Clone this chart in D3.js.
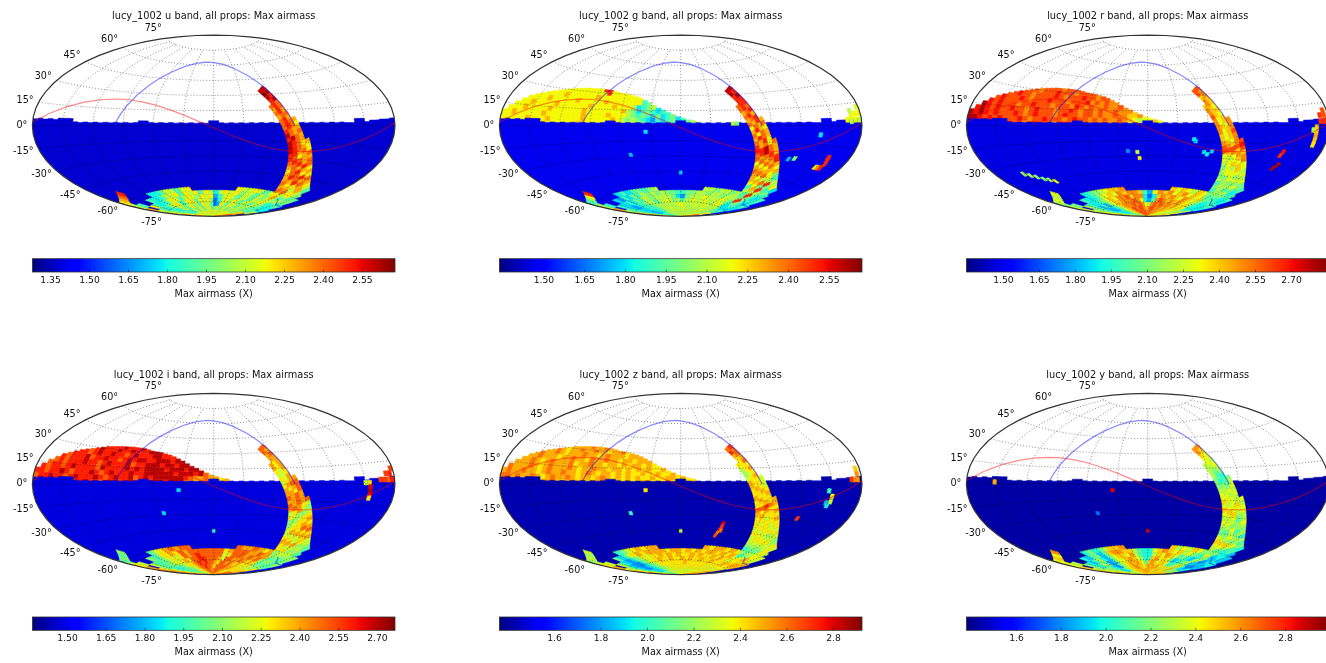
<!DOCTYPE html>
<html><head><meta charset="utf-8">
<script src="https://cdn.jsdelivr.net/npm/d3@7"></script>
<style>
html,body{margin:0;padding:0;background:#fff;overflow:hidden}
svg{display:block;filter:blur(0.6px)}
text{font-family:"DejaVu Sans",sans-serif;fill:#111}
</style></head><body><svg id="chart" width="1326" height="663"></svg>
<script>
// ---------- labels ----------
const bands = ["u","g","r","i","z","y"];
const runName = "lucy_1002";
const metricLabel = "Max airmass";
const colorbarLabel = "Max airmass (X)";
const latTicks = [75,60,45,30,15,0,-15,-30,-45,-60,-75];
const lonGrid = [-150,-120,-90,-60,-30,0,30,60,90,120,150];

// ---------- colour bar ranges and ticks ----------
const colorDomains = [[1.282,2.677],[1.338,2.672],[1.348,2.858],[1.366,2.77],[1.365,2.925],[1.379,2.996]];
const ticksU = ["1.35","1.50","1.65","1.80","1.95","2.10","2.25","2.40","2.55"];
const ticksG = ["1.50","1.65","1.80","1.95","2.10","2.25","2.40","2.55"];
const ticksR = ["1.50","1.65","1.80","1.95","2.10","2.25","2.40","2.55","2.70"];
const ticksI = ["1.50","1.65","1.80","1.95","2.10","2.25","2.40","2.55","2.70"];
const ticksZ = ["1.6","1.8","2.0","2.2","2.4","2.6","2.8"];
const ticksY = ["1.6","1.8","2.0","2.2","2.4","2.6","2.8"];

// ---------- airmass letter codes used in the sky tables ----------
const airmassCodes = {A:1.3,B:1.4,C:1.5,D:1.6,E:1.7,F:1.8,G:1.9,H:2.0,I:2.1,J:2.2,K:2.3,L:2.4,M:2.5,N:2.6,O:2.7,P:2.8,Q:2.9,R:3.0};

// ---------- survey footprint: base airmass and north limit (deg) per 5 deg of longitude from -180 ----------
const baseAirmass = [1.38,1.465,1.476,1.48,1.43,1.43];
const footprintNorth = [4.5,5,4.5,5,4.5,5.5,5.5,5.5,
 3,2.5,3,2.5,3,2.5,3,2.5,3,2.5,3,2.5,
 3,4.5,4.5,
 3,2.5,3,2.5,3,2.5,3,2.5,3,2.5,3,2.5,
 5,5,
 3,2.5,3,2.5,3,2.5,3,2.5,3,2.5,3,2.5,3,2.5,3,2.5,3,2.5,3,2.5,3,2.5,3,2.5,3,2.5,2.5,
 5.5,5.5,
 3,4,4,4.5,4.5,5];

// ---------- overlays on the sky ----------
const galacticLine = [[-99,0],[-90,17.1],[-75,38.6],[-60,51],[-45,57.8],[-30,61.4],[-15,62.9],[-9,63],[0,62.7],[15,60.9],[30,56.8],[45,49.1],[60,35.1],[75,11.6],[81,0]];
const southHook = [[128,-64],[135,-65],[150,-68],[170,-67]];
const eclipticLine = [[-180,2.2],[-165,8.4],[-150,13.9],[-135,18.3],[-120,21.4],[-105,23.1],[-95,23.4],[-90,23.3],[-75,22.1],[-60,19.5],[-45,15.5],[-30,10.4],[-15,4.3],[-5,0],[0,-2.2],[15,-8.4],[30,-13.9],[45,-18.3],[60,-21.4],[75,-23.1],[85,-23.4],[90,-23.3],[105,-22.1],[120,-19.5],[135,-15.5],[150,-10.4],[165,-4.3],[175,0],[180,2.2]];
const planeNode = [81,0];
const planePole = [171,27];

// ---------- plane band: rows every 4 deg along the plane from -44, columns every 4 deg across from -16 ----------
const bandFirstCol = [0,0,0,0,0,0,0,0,0,1,1,1,1,1,1,1,1,1,1,1,1,1,1,1,1,1,1,1,1,0,0,0,0,0,0,0,0,0,0,0,0];
const bandLastCol =  [3,3,3,3,3,3,3,3,3,4,4,4,4,4,4,5,5,5,5,5,5,5,5,5,5,5,5,5,5,6,6,6,6,6,6,6,6,6,6,6,6];
const bandU = ["..NN...","..ON...","..NMN..","..MNM..",".LMLM..",".KMLL..",".LMKM..",".KLLK..",".LMKKL.","JLMLK..","KLMLJ..","LMLKK..","MNLKLJ.","MMNLKK.","LNMLKL.","MNMLJKJ","NNMLKJL","NMMKLJK","MMLJKLM","KLMLKKL","JKLMKLM","JJLKMLK","IKLMKJL","JKMLJKM","JLKLMJK","IKJMKLJ","JLKJLKI","KJLIKJH","LKIJKIH","JIGJIG.","HGIGH..","GFGH...",".FG....",".......",".......","....J..","....K..","....L..","....M..",".......","......."];
const bandG = ["..NN...","..NM...","..MNM..","..MML..",".LMML..",".LMLK..",".KLML..",".LMKL..",".KLMLJ.","JLKMK..","KJLKL..","LKMKJ..","KLJLK..","LKMLKJ.","KLKMJK.","LMKLJLK","LMMNLKJ","LLMNLKK","KLKLMKL","KJLKLML","LKJLKMK","KLKJLKL","JKLKKJK","JKJLJKI","HJKIJHI","HGJLIGH","GIKHMIG","HGIMHIF","IHMIGJF","GMHGHF.","FHGFG..","FGFG...",".FG....",".......",".......","....G..","....H..","....J..","....M..",".......","......."];
const bandR = ["..NN...","..NM...","..LMN..","..MLM..",".LMLL..",".MLKM..",".MLLM..",".NLKM..",".MKLM..","NMKLM..","NMLKM..","NMKLM..","MLKLN..","NLKLMN.","NMLKMN.","MNMLMNM","MNNNNOO","JKLMLNM","IKJKMLM","IJKKLML","JIKLKML","IJKJLKM","JIKKLKL","IJIKKJL","IHJKIKK","HIJIKJK","IHJJIKJ","HIJHKIH","IHIJHIG","JIHIGH.","HGHGH..","GGHG...",".GH....",".......",".......","....J..","....K..","....J..","....K..",".......","......."];
const bandI = ["..MM...","..ML...","..LML..","..LLM..",".LKLL..",".LKLM..",".KJLL..",".JJKL..",".KJLML.","KJKLL..","LKLMM..","LLKLM..","MLLKM..","LMLMLL.","MLLMLM.","LMLMLML","LLMLKJK","KJKLJIJ","JKJIIJK","JIIJKKL","IIJKKLL","IJKKLKM","JJLKMLL","KKJLKML","KLKJLKL","JKLJKLK","IKJLKJK","JIKJIJI","KIJIJI.","IHIJIH.","HIHIH..","IHHI...",".HI....",".......",".......","....H..","....I..","....H..","....I..",".......","......."];
const bandZ = ["..NO...","..ON...","..MNL..","..LMN..",".LLNM..",".KLLM..",".JLML..",".JKLM..",".KLMNM.","LMLLK..","KMLLK..","LLMLK..","MLLML..","LMLLML.","LLMLLM.","MLLMLML","MNNONML","LMLMLLM","LLMLLML","KLLKLLM","KLKLLML","LKLLKLL","KLKLKLL","JKLKLKM","IKLKJLK","IJKLKKL","JHJKLJK","HJIJKJK","KHJIKLL","KLJKLK.","MLMLK..","LMLK...",".MM....",".......",".......","....J..","....K..","....J..","....K..",".......","......."];
const bandY = ["..NN...","..NM...","..MLM..","..LLK..",".KLKK..",".KKLK..",".KJKJ..",".KIJI..",".JIHJK.","IJHIJ..","KJJIK..","LKKJL..","LLKLK..","MLLKLK.","LMLLKK.","MLKLKLL","LMLLMKL","KLMLLLM","LKLMKLL","KLKLJKM","JKLKIKL","IJKJKLK","KJILJKK","MLJKIJK","LMKLJKI","KLMJKHJ","JKLMJKI","LJIKLIH","MLJHIJH","KJGHIH.","GFGHG..","FGHG...",".GH....",".......",".......","....L..","....M..","....L..","....N..",".......","......."];

// ---------- south polar cap: rows by latitude, columns every 10 deg from -180 ----------
const capLatEdges = [-60,-64,-68,-72,-76,-80,-84,-90];
const capU = ["I..... FFGIIG IJ.... ....JI IJIGIH IJIG..","IG..GF FGIIJG JIJGJI FIJIJH IIGIHI IGHG..","K.JGFF GIJIGI JIHJIJ EGIJIG IIGIIH GFFE..","IIGFGH IJIFIJ JGJIJH DFIJHJ IGIIGI HGFEF.","KIHGFG IIGIJH IGJIIG DEJIGJ IIGIHI GHGGI.","MJIHGG GFIIGI JGIJIG HIIGJI GIIHII GIJK..","MLKJII IJIIJI IIJIIJ JIIJII JIIJJI IJKL.."];
const capG = ["I..... FGFGHG HI.... ....II HIIHIH HGFG..","IG..FE GFHGIH IHIHHG GHHIIH IIHIII HGGF..","K.GFFG FHGIIH IIIIHF EHIIIJ IIIJII IHGF..","JHGFEF GGHIIG IIJIHI GIIJII JIIIJI IHGF..","LIGFFF GGGHII IIIIIJ JIIIIJ IIJIII IHHG..","MJHFEF FGGHII IJIIII IJIIII IIIIJI IHIJ..","MLIGGG GHHIII IIIIII IIIIII IIIIII IIJL.."];
const capR = ["I..... GHIJKL LM.... ....LK LKJLKL KJIH..","JI..HG GHJKLK MLMMLH FKMLMK LMKLKL JIHG..","K.JHGG HIKLKM MNLMMG EGLMLM LKMLKL KIHG..","KJIHFH FIKLLM MMNMKG FHMNML MLMLKL KJHH..","LKIGFF GIJLMM MNMNMK JMNMNM MMLMKL KJIJ..","MKJHGG HIKLLN NMNNML MNNMMM LMLLKK KJJK..","MMKIIH IIKLMM NNMNNM MNMMML MLLKKK JJKL.."];
const capI = ["J..... HJKLML MM.... ....ML LMLKLM LKJI..","KJ..IH HKKLKM LMMMMM MMKLMM MLLMLL KJIH..","L.JHHH IJKJKM LMNMMM MMJKMM MLMLML KJII..","MKIHHI IKJKLK MMNNMM MLJMML LMLKLK KIIJ..","MLJHGH HIJKKL MNMNMM LKMMLM LKLKKJ KJJK..","NLKIHH HIIJKL MMNMML KMMMMM LLLKKK KKKL..","NNLJII IIJKKL LMMMLL MMMMLL LLKKKK LLMM.."];
const capZ = ["K..... HIKLML MM.... ....ML MMLMLM MLKK..","LK..IG HKLMLM MMMLMM LMLMLM MLMLML LKJJ..","M.KHGF GIJLKL LMLMLM LLMLML LMLMLM LKJK..","LKIGFF FHJKLL MLLMLL MLMLLM LLMLLL LLKK..","MLIGFF GHIJKL LLLLLL LMLLLL LLLLKL LKKL..","MMKIGG GHIJJK KLLKLL LLKLLL KLLKLK LKLM..","NMLJII IIJJKK KKKLKK KKLKKK KKKKKL LLMM.."];
const capY = ["L..... HJHIKM MN.... ....MK LKMLJL KIHG..","LK..HG IJGIMN NMMKIH HLMNML MKLJIH IHGG..","M.JHGI KHGILM MLNKIH HKMLNM LIJHGH HIFF..","MKJHIK IFGJLL MNMLJH IMNLML JGHIJK HFFG..","NLKJJH GFIKLM NMNMLI MNMLMM LHIJKM JHGH..","NMLKIG HJKLMM NNMMLM NMNMNL MLMKLN KJJK..","NNMKKJ KLLMMM MMNMNM NMMMLM MNMLMM MLMM.."];

// ---------- northern patch: rows by latitude (top first), columns every 5 deg from -180 ----------
const northLatEdges = [33.5,31,28,24,20,16,12,8,4,0];
const northTop = [11,14,17,19.5,22,23.5,25,26.5,27.5,28.5,29.5,30.5,31.5,32,32.5,33,33,33.2,33.2,33,32.8,32,31,30.5,30,29,28,26.5,24.5,22.5,20,17.5,15.5,13,11,9,7.5,6,5,3.5];
const northU = [];
const northG = ["..............JJJJJMM","..........JJJJJJJJJJMJJJ",".......JJJJKJJJJJJKJJJJJJJJ",".....JJJKJJJJJKJJJJJKJJJJJJJ","...JJKJJ JJKJJ JJJJK JJJJK JJJIF GHI",".JJJKJ JJJKJ JJJJJ KJJJJ JJJKI HFGH GFG","JJKJJ JJJKJ JJJJJ JKJJJ JKJJJ IHGHG FHFGH","JJJJJ KJJJK JJJJJ JKJJJ JJKJI HIHGF EGFGH FGHI","JKJJJ JJJKJ JJJJJ KJJJJ JJKJJ IJHIG FGEFG HIGHI"];
const northR = ["..............NNNMNNN","..........NNMNNNONNNMNNN",".......NONNM NNNNO NMNNN ONNMN",".....ONNNO NMNNN ONNNM NNNOM NMNM","...ONONN NMNNO NNNMN NNMON MNMMN MMN",".OPONO NNONN MNONN NMNNO NMNNM NMMN MMM","POPON ONNNO NMNON NNMNO NNMNN MNMMN MMLLM","PPONO NONNN ONMNN ONNNM NONNM NMNMM NMLKJ KKLK","OPOON NONON NMNON NNMNO NNMNN MNMMM NLKJK KLKKJ"];
const northI = ["..............NNONNNO","..........NONNN ONNON NNOO",".......NNMNO NNONN MNONN NOONN",".....MNNNO MNNON NMNON OONNO OONO","...MNMNN NONNM NONNN OMNNO OONOO NOO",".NMNNM NONNN NMONN NNONO NOOOO NOOO NOO","NNMNN ONMNN NONMN ONNNO NNOOO OOONO OONOM","MNNON NMNON NNONM NONNO MNONO OOOOO NMLLM LLKL","NNMNO NNMNN ONNMN ONNNO NMNOO ONOOO MLLLM LLKL"];
const northZ = ["..............MMNMMNM","..........MLMMN MMNMM LMMN",".......MMNML MMMNM MLMNM MMLMM",".....MNMMM LMMNM MLNMM NMMLM MLMM","...MMNML MNMMM NLMMN MMLMM LMLMM LML",".NMMMN MLMNM MMNML MMNMM LMMLM LMLM LLM","MNMMN MMLMN MMNMM LMNML MMLML MLLML LMLLM","NNMNM MNMLM NMMNM LMMLM NMLML MLMLL MLLMM LMLL","NMNMM NMLMM NMLMN MMLMM NLMML MLLMM LLLML MLLM"];
const northY = [];

// ---------- isolated cells: [lon, lat, airmass] ----------
const spotsU = [];
const spotsG = [[-35,-6,1.8],[-54,-28,1.75],[0,-46.5,1.8],[56,2,2.0],[52,2,2.1],[140,-7,1.8],[118,-28,1.75],[124,-27,2.0],[153,-31,2.2],[156,-31,2.35],[159,-31,2.5],[160,-28,2.5],[159,-25,2.5],[158,-23,2.5],[170,10,2.1],[174,8,2.2],[170,6,2.2],[174,4,2.2],[178,8,2.2],[178,4,2.1],[170,3,2.1],[166,4,2.2],[178,12,2.15]];
const spotsR = [[-21,-25,1.75],[-11,-26,2.25],[-9,-32,2.35],[47,-13,1.9],[49,-15,1.85],[60,-25,1.9],[64,-27,1.9],[68,-24,1.85],[-150,-37,2.15],[-145,-39,2.2],[-140,-41,2.15],[-135,-43.5,2.1],[-130,-45,2.2],[-125,-47,2.3],[142,-20,2.7],[141,-23,2.65],[146,-30,2.78],[144,-33,2.78],[168,-1,2.4],[168,-4,2.4],[168,-7,2.45],[168,-10,2.4],[168,-13,2.35],[165,-3,2.2],[172,3,2.65],[176,3,2.65],[172,7,2.65],[176,7,2.6],[176,10,2.6]];
const spotsI = [[-35,-6,1.85],[-54,-28,1.85],[0,-46.5,1.95],[151,1,2.2],[155,1,2.3],[156,-2,2.65],[156,-5,2.7],[156,-8,2.65],[156,-10,2.3],[166,3,2.55],[170,3,2.55],[174,3,2.5],[178,3,2.6],[172,7,2.55],[176,7,2.6],[178,10,2.55]];
const spotsZ = [[-35,-6,2.4],[-54,-28,2.0],[0,-46.5,2.3],[50,-38,2.8],[50,-41,2.7],[49,-44,2.7],[48,-47,2.6],[47,-50,2.65],[51,-45,2.6],[148,-5,2.0],[148,-14,1.85],[152,-9,2.35],[152,-13,2.3],[150,-16,1.95],[128,-28,2.7],[172,3,2.5],[176,3,2.55],[176,7,2.55],[176,10,2.45],[170,3,2.7]];
const spotsY = [[-35,-6,2.85],[-54,-28,1.75],[0,-46.5,2.85],[-152,1.5,2.55]];

const tickSets = [ticksU,ticksG,ticksR,ticksI,ticksZ,ticksY];
const bandSets = [bandU,bandG,bandR,bandI,bandZ,bandY];
const capSets = [capU,capG,capR,capI,capZ,capY];
const northSets = [northU,northG,northR,northI,northZ,northY];
const spotSets = [spotsU,spotsG,spotsR,spotsI,spotsZ,spotsY];

// ---------- layout (not data) ----------
const panelCx = [213.7,680.7,1147.7], panelCy = [125.7,484];
const halfW = 181.3;

// ---------- jet colour map ----------
const jetR = d3.scaleLinear().domain([0,.35,.66,.89,1]).range([0,0,255,255,128]).clamp(true);
const jetG = d3.scaleLinear().domain([0,.125,.375,.64,.91,1]).range([0,0,255,255,0,0]).clamp(true);
const jetB = d3.scaleLinear().domain([0,.11,.34,.65,1]).range([128,255,255,0,0]).clamp(true);
const jet = t => `rgb(${Math.round(jetR(t))},${Math.round(jetG(t))},${Math.round(jetB(t))})`;

// ---------- Aitoff projection ----------
function aitoffRaw(lam,phi){
  const a = Math.acos(Math.cos(phi)*Math.cos(lam/2));
  const s = a < 1e-9 ? 1 : Math.sin(a)/a;
  return [2*Math.cos(phi)*Math.sin(lam/2)/s, Math.sin(phi)/s];
}
const rad = Math.PI/180, deg = 180/Math.PI;
const toVec = ([lon,lat]) => [Math.cos(lat*rad)*Math.cos(lon*rad),Math.cos(lat*rad)*Math.sin(lon*rad),Math.sin(lat*rad)];
const cross = (a,b)=>[a[1]*b[2]-a[2]*b[1],a[2]*b[0]-a[0]*b[2],a[0]*b[1]-a[1]*b[0]];
const A = toVec(planeNode), P = toVec(planePole), B = cross(P,A);
function planeToSky(l,b){
  const cl=Math.cos(l*rad),sl=Math.sin(l*rad),cb=Math.cos(b*rad),sb=Math.sin(b*rad);
  const v=[0,1,2].map(i=>cb*(cl*A[i]+sl*B[i])+sb*P[i]);
  return [Math.atan2(v[1],v[0])*deg,Math.asin(Math.max(-1,Math.min(1,v[2])))*deg];
}
const lonClamp = v => Math.max(-179.999,Math.min(179.999,v));
const cellPoly = (w,e,s,n)=>({type:"Polygon",coordinates:[[[lonClamp(w),s],[lonClamp(w),n],[lonClamp(e),n],[lonClamp(e),s],[lonClamp(w),s]]]});
const cleanRow = r => r.replace(/ /g,"");

// footprint as a single ring walked eastward along its north limit; the south pole lies inside
const footprintRing = [];
footprintNorth.forEach((top,k)=>{
  footprintRing.push([lonClamp(-180+5*k),top],[lonClamp(-175+5*k),top]);
});
footprintRing.push(footprintRing[0]);

const svg = d3.select("#chart");
const defs = svg.append("defs");

bands.forEach((band,i)=>{
  const cx = panelCx[i%3], cy = panelCy[Math.floor(i/3)];
  const projection = d3.geoProjection(aitoffRaw).scale(halfW/Math.PI).translate([cx,cy]).precision(0.4);
  const path = d3.geoPath(projection);
  const dom = colorDomains[i];
  const colorT = d3.scaleLinear().domain(dom).range([0,1]);
  const color = v => jet(colorT(v));
  const g = svg.append("g");

  defs.append("clipPath").attr("id","sky"+i).append("path").attr("d",path({type:"Sphere"}));
  const sky = g.append("g").attr("clip-path",`url(#sky${i})`);

  const cells = [];
  // northern patch, walked from the equator up so each column keeps a colour to its top limit
  const north = northSets[i].map(cleanRow);
  if(north.length){
    northTop.forEach((top,k)=>{
      let last = null;
      for(let r=north.length-1;r>=0;r--){
        const low = northLatEdges[r+1], high = Math.min(northLatEdges[r],top);
        if(low>=top) break;
        const v = airmassCodes[north[r][k]] || last;
        if(v){ cells.push({geo:cellPoly(-180+5*k,-175+5*k,low,high),v}); last=v; }
      }
    });
  }
  // base footprint
  cells.push({geo:{type:"Polygon",coordinates:[footprintRing]},v:baseAirmass[i]});
  // isolated cells
  spotSets[i].forEach(([lon,lat,v])=>{
    cells.push({geo:cellPoly(lon-1.8,lon+1.8,lat-1.7,lat+1.7),v});
  });
  // south cap
  capSets[i].forEach((row,r)=>{
    [...cleanRow(row)].forEach((c,k)=>{
      if(airmassCodes[c]) cells.push({geo:cellPoly(-180+10*k,-170+10*k,capLatEdges[r+1],capLatEdges[r]),v:airmassCodes[c]});
    });
  });
  // plane band
  bandSets[i].forEach((row,r)=>{
    const l0=-44+4*r,l1=l0+4;
    [...row].forEach((c,k)=>{
      if(!airmassCodes[c] || k<bandFirstCol[r] || k>bandLastCol[r]) return;
      const b0=-16+4*k,b1=b0+4;
      const ring=[planeToSky(l0,b0),planeToSky(l0,b1),planeToSky(l1,b1),planeToSky(l1,b0)];
      ring.push(ring[0]);
      cells.push({geo:{type:"Polygon",coordinates:[ring]},v:airmassCodes[c]});
    });
  });

  sky.selectAll("path.cell").data(cells).join("path").attr("class","cell")
    .attr("d",d=>path(d.geo)).attr("fill",d=>color(d.v)).attr("stroke",d=>color(d.v)).attr("stroke-width",0.5);

  // graticule
  const gridLines = {type:"MultiLineString",coordinates:[
    ...latTicks.map(lat=>d3.range(-180,181,10).map(lon=>[lonClamp(lon),lat])),
    ...lonGrid.map(lon=>d3.range(-75,76,5).map(lat=>[lon,lat]))
  ]};
  sky.append("path").attr("d",path(gridLines)).attr("fill","none").attr("stroke","#000").attr("stroke-opacity",0.55)
    .attr("stroke-width",0.8).attr("stroke-dasharray","1 2");

  // lines
  sky.append("path").attr("d",path({type:"LineString",coordinates:galacticLine}))
    .attr("fill","none").attr("stroke","#0000ff").attr("stroke-opacity",0.45).attr("stroke-width",1.3);
  sky.append("path").attr("d",path({type:"LineString",coordinates:southHook}))
    .attr("fill","none").attr("stroke","#0000ff").attr("stroke-opacity",0.45).attr("stroke-width",1.3);
  sky.append("path").attr("d",path({type:"LineString",coordinates:eclipticLine.map(([a,b])=>[lonClamp(a),b])}))
    .attr("fill","none").attr("stroke","#ff0000").attr("stroke-opacity",0.45).attr("stroke-width",1.2);

  // outline
  g.append("path").attr("d",path({type:"Sphere"})).attr("fill","none").attr("stroke","#333").attr("stroke-width",1.2);

  // latitude labels
  g.selectAll("text.lat").data(latTicks).join("text").attr("class","lat")
    .attr("x",d=>projection([-179.999,d])[0]-5)
    .attr("y",d=>projection([-179.999,d])[1]-1-d*0.13)
    .attr("dy","0.36em").attr("text-anchor","end").attr("font-size",9.6).text(d=>d+"°");

  // title
  g.append("text").attr("x",cx).attr("y",cy-106.5).attr("text-anchor","middle").attr("font-size",9.8)
    .text(`${runName} ${band} band, all props: ${metricLabel}`);

  // colour bar
  const barTop = cy+133, barH = 13.3;
  const barScale = d3.scaleLinear().domain(dom).range([cx-halfW,cx+halfW]);
  const grad = defs.append("linearGradient").attr("id","jet"+i).attr("x1",0).attr("x2",1).attr("y1",0).attr("y2",0);
  d3.range(0,1.0001,1/64).forEach(t=>grad.append("stop").attr("offset",t).attr("stop-color",jet(t)));
  g.append("rect").attr("x",cx-halfW).attr("y",barTop).attr("width",2*halfW).attr("height",barH)
    .attr("fill",`url(#jet${i})`).attr("stroke","#333").attr("stroke-width",0.8);
  const labels = tickSets[i];
  const axis = d3.axisBottom(barScale).tickValues(labels.map(Number)).tickFormat((d,k)=>labels[k]).tickSize(-2.5).tickPadding(4.5);
  const ax = g.append("g").attr("transform",`translate(0,${barTop+barH})`).call(axis);
  ax.select(".domain").remove();
  ax.selectAll("line").attr("stroke","#000").attr("stroke-width",0.5);
  ax.selectAll("text").attr("font-size",9.2).attr("font-family","DejaVu Sans");
  g.append("text").attr("x",cx).attr("y",barTop+barH+24.5).attr("text-anchor","middle").attr("font-size",9.7).text(colorbarLabel);
});
</script></body></html>
